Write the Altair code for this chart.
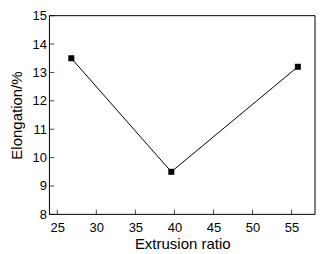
import altair as alt
import pandas as pd

ratio = [26.8, 39.6, 55.8]
elong = [13.5, 9.5, 13.2]
x_ticks = [25, 30, 35, 40, 45, 50, 55]
y_ticks = [8, 9, 10, 11, 12, 13, 14, 15]

df = pd.DataFrame({"ratio": ratio, "elong": elong})
xt = pd.DataFrame({"t": x_ticks})
yt = pd.DataFrame({"t": y_ticks})

W, H = 266, 199
FONT = "Liberation Sans"

xs = alt.Scale(domain=[24, 58], nice=False, zero=False)
ys = alt.Scale(domain=[8, 15], nice=False, zero=False)

xax = alt.Axis(values=x_ticks, labelPadding=7, titlePadding=2)
yax = alt.Axis(values=y_ticks, labelPadding=3, titlePadding=8)
XT = "Extrusion ratio"
YT = "Elongation/%"

frame = alt.Chart(pd.DataFrame({"f": [0]})).mark_rect(
    fill="transparent", stroke="black", strokeWidth=1
).encode(
    x=alt.value(0), x2=alt.value(W), y=alt.value(0), y2=alt.value(H)
)
line = alt.Chart(df).mark_line(color="black", strokeWidth=1).encode(
    x=alt.X("ratio:Q", scale=xs, axis=xax, title=XT),
    y=alt.Y("elong:Q", scale=ys, axis=yax, title=YT),
)
pts = alt.Chart(df).mark_square(color="black", size=36, opacity=1).encode(
    x=alt.X("ratio:Q", scale=xs, axis=xax, title=XT),
    y=alt.Y("elong:Q", scale=ys, axis=yax, title=YT),
)
xtick = alt.Chart(xt).mark_tick(color="black", size=5, thickness=1, orient="vertical").encode(
    x=alt.X("t:Q", scale=xs, axis=xax, title=XT),
    y=alt.value(H - 2.5),
)
ytick = alt.Chart(yt).mark_tick(color="black", size=5, thickness=1, orient="horizontal").encode(
    y=alt.Y("t:Q", scale=ys, axis=yax, title=YT),
    x=alt.value(2.5),
)

chart = alt.layer(line, pts, xtick, ytick, frame).properties(
    width=W, height=H,
    autosize=alt.AutoSizeParams(type="none"),
    padding={"left": 41.5, "top": 7.5, "right": 13, "bottom": 40},
    background="white",
).configure_view(
    strokeWidth=0
).configure_axis(
    tickSize=0, ticks=False, grid=False, domain=False,
    labelOverlap=False, labelFlush=False,
    labelFont=FONT, labelFontSize=13, labelColor="black",
    titleFont=FONT, titleFontSize=15, titleFontWeight="normal", titleColor="black",
)

chart.save("out.html", embed_options={"renderer": "svg", "actions": False})
